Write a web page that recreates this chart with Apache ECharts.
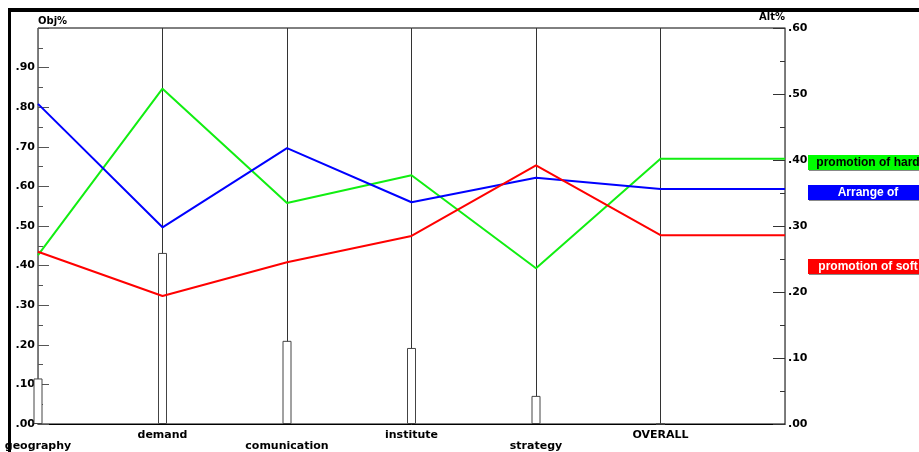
<!DOCTYPE html>
<html lang="en">
<head>
    <meta charset="UTF-8">
    <title>Sensitivity</title>
    <script src="https://cdn.jsdelivr.net/npm/echarts@6/dist/echarts.min.js"></script>
    <style>
        html, body { margin: 0; padding: 0; background: #fff; }
        #chart { width: 919px; height: 452px; }
    </style>
</head>
<body>
<div id="chart"></div>
<script>
    // criteria along the x axis
    const categories = ['geography', 'demand', 'comunication', 'institute', 'strategy', 'OVERALL'];
    // criterion weights (Obj%, left axis)
    const weights = [0.115, 0.432, 0.21, 0.192, 0.071, 0];
    // alternative priorities (Alt%, right axis)
    const hardValues = [0.256, 0.508, 0.335, 0.377, 0.236, 0.402];
    const arrangeValues = [0.485, 0.298, 0.418, 0.336, 0.373, 0.356];
    const softValues = [0.261, 0.194, 0.245, 0.285, 0.392, 0.286];
    const seriesNames = ['promotion of hard', 'Arrange of', 'promotion of soft'];

    const font = 'DejaVu Sans';
    const fmt = v => v.toFixed(2).replace(/^0/, '');

    // line runs through every criterion and then flat out to the right axis
    function toLine(arr) {
        let d = arr.map((v, i) => [i, v]);
        d.push([categories.length, arr[arr.length - 1]]);
        return d;
    }

    function legendBox(y, fill, text, textColor) {
        return [
            {type: 'rect', shape: {x: 809, y: y + 1, width: 120, height: 15}, style: {fill: '#888'}},
            {type: 'rect', shape: {x: 808, y: y, width: 120, height: 15}, style: {fill: fill}},
            {
                type: 'text', x: 868, y: y + 8,
                style: {
                    text: text, fill: textColor, align: 'center', verticalAlign: 'middle',
                    font: 'bold 12px "Liberation Sans"'
                }
            }
        ];
    }

    let myChart = echarts.init(document.getElementById('chart'));
    let option = {
        animation: false,
        backgroundColor: '#fff',
        grid: {
            left: 38, right: 134, top: 28, bottom: 28,
            show: true, borderColor: '#000', borderWidth: 1
        },
        xAxis: {
            type: 'value',
            min: 0,
            max: categories.length,
            interval: 1,
            axisLine: {lineStyle: {color: '#000', width: 1}},
            axisTick: {show: false},
            splitLine: {show: true, lineStyle: {color: '#333', width: 1}},
            axisLabel: {
                color: '#000', fontFamily: font, fontWeight: 'bold', fontSize: 11,
                lineHeight: 11, margin: 6,
                formatter: v => {
                    let name = categories[v];
                    if (!name) return '';
                    return v % 2 === 0 ? '\n' + name : name;
                }
            }
        },
        yAxis: [{
            type: 'value',
            min: 0, max: 1, interval: 0.1,
            name: 'Obj%',
            nameLocation: 'end',
            nameGap: 2,
            nameTextStyle: {
                color: '#000', fontFamily: font, fontWeight: 'bold', fontSize: 10,
                align: 'left', verticalAlign: 'bottom'
            },
            axisLine: {show: true, lineStyle: {color: '#777'}},
            axisTick: {show: true, inside: true, length: 11, lineStyle: {color: '#555'}},
            minorTick: {show: true, splitNumber: 2, length: 5, lineStyle: {color: '#555'}},
            splitLine: {show: false},
            axisLabel: {
                color: '#000', fontFamily: font, fontWeight: 'bold', fontSize: 11, margin: 3,
                formatter: v => v >= 1 ? '' : fmt(v)
            }
        }, {
            type: 'value',
            min: 0, max: 0.6, interval: 0.1,
            position: 'right',
            name: 'Alt%',
            nameLocation: 'end',
            nameGap: 0,
            nameTextStyle: {
                color: '#000', fontFamily: font, fontWeight: 'bold', fontSize: 10,
                align: 'right', verticalAlign: 'bottom'
            },
            axisLine: {show: true, lineStyle: {color: '#777'}},
            axisTick: {show: true, inside: true, length: 12, lineStyle: {color: '#333'}},
            minorTick: {show: true, splitNumber: 2, length: 5, lineStyle: {color: '#333'}},
            splitLine: {show: false},
            axisLabel: {
                color: '#000', fontFamily: font, fontWeight: 'bold', fontSize: 11, margin: 3,
                formatter: v => fmt(v)
            }
        }],
        series: [{
            name: 'weights',
            type: 'bar',
            yAxisIndex: 0,
            barWidth: 9,
            data: weights.map((v, i) => [i, v]),
            itemStyle: {color: '#fff', borderColor: '#444', borderWidth: 1},
            z: 2
        }, {
            name: seriesNames[0],
            type: 'line',
            yAxisIndex: 1,
            data: toLine(hardValues),
            symbol: 'none',
            lineStyle: {color: '#11ee11', width: 2},
            z: 3
        }, {
            name: seriesNames[1],
            type: 'line',
            yAxisIndex: 1,
            data: toLine(arrangeValues),
            symbol: 'none',
            lineStyle: {color: '#0000ff', width: 2},
            z: 3
        }, {
            name: seriesNames[2],
            type: 'line',
            yAxisIndex: 1,
            data: toLine(softValues),
            symbol: 'none',
            lineStyle: {color: '#ff0000', width: 2},
            z: 3
        }],
        graphic: [
            {type: 'rect', shape: {x: 8, y: 8, width: 911, height: 4}, style: {fill: '#000'}},
            {type: 'rect', shape: {x: 8, y: 8, width: 3, height: 444}, style: {fill: '#000'}}
        ].concat(
            legendBox(155, '#00ff00', seriesNames[0], '#000'),
            legendBox(185, '#0000ff', seriesNames[1], '#fff'),
            legendBox(259, '#ff0000', seriesNames[2], '#fff')
        )
    };
    myChart.setOption(option);
</script>
</body>
</html>
